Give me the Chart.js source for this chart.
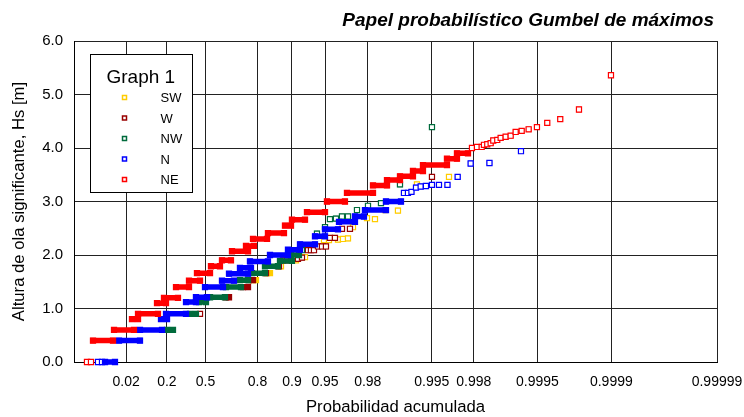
<!DOCTYPE html>
<html>
<head>
<meta charset="utf-8">
<script src="https://cdn.jsdelivr.net/npm/chart.js@4.4.0/dist/chart.umd.min.js"></script>
<style>
  html, body { margin: 0; padding: 0; background: #fff; }
  #wrap { width: 744px; height: 417px; }
</style>
</head>
<body>
<div id="wrap"><canvas id="gumbelChart" width="744" height="417"></canvas></div>
<script>
// x values are the Gumbel reduced variate u = -ln(-ln(P))
// each row: [Hs, u] for a single point, [Hs, uStart, uEnd] for a dense run of points
const chartTitle = 'Papel probabilístico Gumbel de máximos';
const legendTitle = 'Graph 1';
const seriesNames = ['SW', 'W', 'NW', 'N', 'NE'];
const seriesColors = ['#FFCC00', '#990000', '#006B3C', '#0000FF', '#FF0000'];

const probTicks = [0.02, 0.2, 0.5, 0.8, 0.9, 0.95, 0.98, 0.995, 0.998, 0.9995, 0.9999, 0.99999];
const probLabels = ['0.02', '0.2', '0.5', '0.8', '0.9', '0.95', '0.98', '0.995', '0.998', '0.9995', '0.9999', '0.99999'];
const uMin = -2.5;
const hsMin = 0, hsMax = 6, hsStep = 1;

const swData = [
  [1.53, 1.401, 1.466], [1.66, 1.706, 1.771], [1.79, 2.011], [1.90, 2.338], [1.96, 2.534],
  [2.28, 2.948], [2.28, 3.057], [2.29, 3.253], [2.30, 3.362], [2.31, 3.471], [2.52, 3.580],
  [2.69, 3.885], [2.67, 4.059], [2.84, 4.277], [2.83, 4.560], [3.32, 4.974], [3.46, 5.672]
];
const wData = [
  [0.90, 0.246], [1.21, 0.812, 0.878], [1.40, 1.183, 1.292], [1.53, 1.313, 1.401],
  [1.66, 1.684], [1.79, 1.967], [1.90, 2.054], [1.90, 2.141], [1.91, 2.229], [1.93, 2.316],
  [1.93, 2.381], [1.95, 2.468], [2.09, 2.599], [2.09, 2.664], [2.09, 2.730], [2.16, 2.817],
  [2.16, 2.904], [2.16, 2.991], [2.32, 3.078], [2.32, 3.187], [2.49, 3.340], [2.49, 3.514],
  [3.46, 5.301]
];
const nwData = [
  [0.60, -0.473, -0.343], [0.90, 0.028, 0.158], [1.12, 0.224, 0.376], [1.21, 0.464, 0.790],
  [1.40, 0.812, 1.139], [1.53, 1.117, 1.292], [1.66, 1.379, 1.662], [1.79, 1.662, 1.945],
  [1.89, 1.989, 2.250], [2.00, 2.229, 2.403],
  [2.09, 2.468], [2.40, 2.795], [2.52, 2.970], [2.67, 3.078], [2.68, 3.209], [2.72, 3.340],
  [2.72, 3.471], [2.84, 3.667], [2.92, 3.907], [2.97, 4.190], [3.32, 4.604], [4.39, 5.301]
];
const nData = [
  [0.00, -1.977], [0.00, -1.890], [0.00, -1.824, -1.607], [0.40, -1.519, -1.062],
  [0.60, -1.062, -0.582], [0.80, -0.604, -0.473], [0.90, -0.495, -0.059], [1.12, -0.059, 0.158],
  [1.21, 0.158, 0.398], [1.40, 0.355, 0.747], [1.52, 0.725, 0.987], [1.65, 0.878, 1.292],
  [1.76, 1.117, 1.357], [1.88, 1.335, 1.727], [2.00, 1.771, 2.163], [2.10, 2.163, 2.425],
  [2.20, 2.425, 2.752], [2.35, 2.752, 2.970], [2.48, 2.970, 3.253], [2.62, 3.275, 3.623],
  [2.72, 3.623, 3.819], [2.84, 3.841, 4.299], [3.00, 4.299, 4.626],
  [3.16, 4.691], [3.16, 4.778], [3.18, 4.854], [3.26, 4.953], [3.28, 5.055], [3.29, 5.170],
  [3.31, 5.301], [3.31, 5.454], [3.31, 5.639], [3.46, 5.861], [3.71, 6.144], [3.72, 6.554],
  [3.94, 7.241]
];
const neData = [
  [0.00, -2.217], [0.00, -2.130], [0.40, -2.086, -1.650], [0.60, -1.628, -1.193],
  [0.80, -1.236, -1.105], [0.90, -1.105, -0.670], [1.10, -0.691, -0.495], [1.20, -0.539, -0.234],
  [1.40, -0.277, 0.006], [1.52, 0.006, 0.246], [1.66, 0.180, 0.464], [1.79, 0.485, 0.681],
  [1.90, 0.725, 0.921], [2.07, 0.943, 1.292], [2.17, 1.248, 1.422], [2.30, 1.401, 1.706],
  [2.41, 1.727, 2.076], [2.55, 2.098, 2.229], [2.66, 2.250, 2.534], [2.80, 2.577, 2.970],
  [3.00, 3.013, 3.405], [3.16, 3.449, 4.016], [3.30, 4.016, 4.321], [3.40, 4.321, 4.604],
  [3.47, 4.604, 4.887], [3.57, 4.887, 5.105], [3.68, 5.105, 5.628], [3.80, 5.628, 5.846],
  [3.90, 5.846, 6.086],
  [4.00, 6.173], [4.02, 6.282], [4.02, 6.384], [4.06, 6.434], [4.07, 6.506], [4.09, 6.580],
  [4.14, 6.637], [4.15, 6.724], [4.19, 6.798], [4.21, 6.907], [4.23, 7.016], [4.30, 7.125],
  [4.32, 7.256], [4.35, 7.408], [4.39, 7.589], [4.47, 7.814], [4.54, 8.097], [4.72, 8.505],
  [5.36, 9.202]
];
const allSeries = [swData, wData, nwData, nData, neData];

function gumbel(p) {
  return -Math.log(-Math.log(p));
}

// a run becomes two points joined by a thick line, a gap separates entries
function toPoints(rows) {
  const pts = [];
  rows.forEach(function(r) {
    const run = r.length > 2;
    pts.push({ x: r[1], y: r[0], run: run });
    if (run) pts.push({ x: r[2], y: r[0], run: true });
    pts.push({ x: null, y: null });
  });
  return pts;
}

const datasets = allSeries.map(function(rows, i) {
  return {
    label: seriesNames[i],
    data: toPoints(rows),
    showLine: true,
    spanGaps: false,
    borderColor: seriesColors[i],
    borderWidth: 5.5,
    borderCapStyle: 'square',
    pointStyle: 'rect',
    pointRadius: 3.6,
    pointHoverRadius: 3.6,
    pointBorderWidth: 1.2,
    pointBorderColor: seriesColors[i],
    pointBackgroundColor: function(c) {
      return c.raw && c.raw.run ? seriesColors[i] : '#fff';
    },
    clip: false,
    order: seriesNames.length - i
  };
});

const overlay = {
  id: 'overlay',
  afterDatasetsDraw(chart) {
    const ctx = chart.ctx;
    const area = chart.chartArea;
    ctx.save();
    // legend box
    const bx = area.left + 16.5, by = area.top + 13.5, bw = 102, bh = 138;
    ctx.fillStyle = '#fff';
    ctx.fillRect(bx, by, bw, bh);
    ctx.strokeStyle = '#000';
    ctx.lineWidth = 1;
    ctx.strokeRect(bx, by, bw, bh);
    ctx.fillStyle = '#000';
    ctx.textAlign = 'left';
    ctx.textBaseline = 'middle';
    ctx.font = '19px "Liberation Sans", Arial, sans-serif';
    ctx.fillText(legendTitle, bx + 16, by + 23);
    ctx.font = '13px "Liberation Sans", Arial, sans-serif';
    seriesNames.forEach(function(name, i) {
      const y = by + 43 + i * 20.5;
      ctx.strokeStyle = seriesColors[i];
      ctx.lineWidth = 1.5;
      ctx.strokeRect(bx + 32, y - 2, 4, 4);
      ctx.fillStyle = '#000';
      ctx.fillText(name, bx + 70, y + 1);
    });
    // title
    ctx.font = 'italic bold 19px "Liberation Sans", Arial, sans-serif';
    ctx.textAlign = 'right';
    ctx.textBaseline = 'alphabetic';
    ctx.fillText(chartTitle, 714, 26);
    ctx.restore();
  }
};

Chart.defaults.font.family = '"Liberation Sans", Arial, sans-serif';
Chart.defaults.color = '#000';

new Chart(document.getElementById('gumbelChart').getContext('2d'), {
  type: 'scatter',
  data: { datasets: datasets },
  options: {
    responsive: false,
    animation: false,
    devicePixelRatio: 1,
    layout: { padding: { top: 41, right: 27, bottom: 0, left: 0 } },
    plugins: {
      legend: { display: false },
      tooltip: { enabled: false },
      title: { display: false }
    },
    scales: {
      x: {
        type: 'linear',
        min: uMin,
        max: gumbel(probTicks[probTicks.length - 1]),
        afterBuildTicks: function(scale) {
          scale.ticks = probTicks.map(function(p) { return { value: gumbel(p) }; });
        },
        afterFit: function(scale) {
          scale.height = 55;
          scale.paddingLeft = 0;
          scale.paddingRight = 0;
        },
        ticks: {
          autoSkip: false,
          maxRotation: 0,
          padding: 12,
          font: { size: 14 },
          callback: function(v, i) { return probLabels[i]; }
        },
        grid: { color: '#222', lineWidth: 1, drawTicks: false },
        border: { color: '#000', width: 1 },
        title: {
          display: true,
          text: 'Probabilidad acumulada',
          font: { size: 16.7 },
          padding: { top: 0, bottom: 0 }
        }
      },
      y: {
        min: hsMin,
        max: hsMax,
        afterFit: function(scale) {
          scale.width = 74;
          scale.paddingTop = 0;
          scale.paddingBottom = 0;
        },
        ticks: {
          stepSize: hsStep,
          padding: 11,
          font: { size: 15 },
          callback: function(v) { return v.toFixed(1); }
        },
        grid: { color: '#222', lineWidth: 1, drawTicks: false },
        border: { color: '#000', width: 1 },
        title: {
          display: true,
          text: 'Altura de ola significante, Hs [m]',
          font: { size: 16.7 },
          padding: { top: 9, bottom: 0 }
        }
      }
    }
  },
  plugins: [overlay]
});
</script>
</body>
</html>
